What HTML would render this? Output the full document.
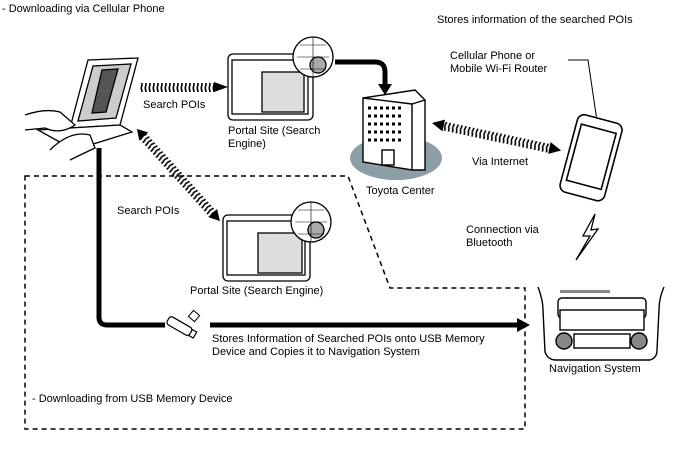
<!DOCTYPE html>
<html><head><style>
html,body{margin:0;padding:0;background:#fff}
svg{display:block}
text{font-family:"Liberation Sans",sans-serif;font-size:11px;fill:#000}
</style></head><body>
<svg width="688" height="463" viewBox="0 0 688 463">
<defs>
<pattern id="ww" width="4" height="8" patternUnits="userSpaceOnUse"><path d="M1 0 Q3 4 1 8" stroke="#000" stroke-width="1.6" fill="none"/></pattern>
</defs>
<text x="2" y="12">- Downloading via Cellular Phone</text>
<text x="437" y="23">Stores information of the searched POIs</text>
<text x="450" y="59">Cellular Phone or</text>
<text x="450" y="72">Mobile Wi-Fi Router</text>
<path d="M568 60 L588 60 L597 121" stroke="#000" fill="none"/>
<!-- dashed box -->
<path d="M25 176 L348 176 L390 288 L525 288 L525 429 L25 429 Z" stroke="#000" stroke-width="1.5" stroke-dasharray="5,4" fill="none"/>
<text x="32" y="402">- Downloading from USB Memory Device</text>
<!-- laptop -->
<g stroke="#000" fill="#fff" stroke-width="1.3">
<path d="M88 60 L138 58 L120 125 L70 128 Z"/>
<path d="M93 66 L131 64 L116 118 L78 121 Z" fill="#ccc"/>
<path d="M102 70 L118 69 L106 112 L92 113 Z" fill="#555"/>
<path d="M70 128 L120 125 L132 132 L74 150 L38 130 Z"/>
<path d="M25 115 Q45 108 60 112 L75 125 Q60 135 45 128 L25 130"/>
<path d="M50 150 Q70 130 90 135 L95 148 Q80 155 70 160"/>
</g>
<!-- wavy arrows -->
<rect x="140" y="83" width="75" height="9" fill="url(#ww)"/>
<path d="M214 82 L228 87 L214 92 Z"/>
<text x="143" y="108">Search POIs</text>
<g transform="translate(137,129) rotate(48)"><rect x="8" y="-4" width="108" height="9" fill="url(#ww)"/><path d="M0 0 L10 -6 L10 6Z"/><path d="M124 0 L113 -6 L113 6Z"/></g>
<text x="117" y="214">Search POIs</text>
<!-- portals -->
<g stroke="#000" stroke-width="1.3" fill="#fff">
<rect x="228" y="54" width="85" height="66" rx="5"/><rect x="232" y="60" width="76" height="54" fill="#fff"/>
<rect x="262" y="72" width="42" height="40" fill="#ddd"/>
<circle cx="313" cy="57" r="20"/><circle cx="318" cy="65" r="8" fill="#aaa"/>
<rect x="223" y="215" width="87" height="66" rx="5"/><rect x="227" y="221" width="78" height="54"/>
<rect x="258" y="233" width="44" height="40" fill="#ddd"/>
<circle cx="311" cy="222" r="20"/><circle cx="316" cy="230" r="8" fill="#aaa"/>
</g>
<g stroke="#000" stroke-width="0.6"><path d="M297 57 H329 M313 37 V77 M300 45 H326 M300 69 H326 M295 222 H327 M311 202 V242 M298 210 H324 M298 234 H324"/></g>
<text x="228" y="134">Portal Site (Search</text>
<text x="228" y="147">Engine)</text>
<text x="190" y="294">Portal Site (Search Engine)</text>
<!-- thick arrow -->
<path d="M335 62 L375 62 Q385 62 385 72 L385 86" stroke="#000" stroke-width="5" fill="none"/>
<path d="M378 84 L392 84 L385 95Z"/>
<!-- building -->
<ellipse cx="396" cy="158" rx="46" ry="22" fill="#8c9ea6"/>
<g stroke="#000" stroke-width="1.4" fill="#fff">
<path d="M363 98 L415 90 L425 100 L425 170 L412 170 L363 162Z"/>
<path d="M412 104 L425 100 M412 104 L412 170 M363 98 L412 104"/>
<rect x="382" y="150" width="12" height="15"/>
</g>
<g fill="none" stroke="#000" stroke-width="0.8">
<path d="M368 108 h36 M368 116 h36 M368 124 h36 M368 132 h36 M368 140 h36" stroke-dasharray="3,3" stroke-width="3"/>
</g>
<text x="366" y="194">Toyota Center</text>
<!-- internet arrow -->
<g transform="translate(432,123) rotate(12)"><path d="M0 0 L12 -6 L12 6Z"/><rect x="12" y="-4" width="108" height="9" fill="url(#ww)"/><path d="M132 0 L120 -6 L120 6Z"/></g>
<text x="472" y="165">Via Internet</text>
<!-- phone -->
<g transform="rotate(15 592 158)" stroke="#000" fill="#fff" stroke-width="1.6">
<rect x="568" y="118" width="46" height="80" rx="7"/>
<rect x="573" y="128" width="36" height="58"/>
</g>
<text x="466" y="233">Connection via</text>
<text x="466" y="246">Bluetooth</text>
<path d="M595 214 L583 236 L590 236 L576 260 L598 229 L591 230 Z" stroke="#000" fill="#fff" stroke-width="1.3"/>
<!-- nav -->
<g stroke="#000" fill="#fff" stroke-width="1.4">
<path d="M538 287 Q543 300 543 310 L545 352 Q548 360 556 360 L650 360 Q657 358 657 350 L659 310 Q659 298 664 287"/>
<rect x="558" y="298" width="88" height="20" rx="4"/>
<rect x="560" y="310" width="84" height="20"/>
<circle cx="564" cy="341" r="8" fill="#888"/><circle cx="639" cy="341" r="8" fill="#888"/>
<rect x="574" y="334" width="56" height="14"/>
</g>
<rect x="560" y="290" width="50" height="3" fill="#888"/>
<text x="549" y="372">Navigation System</text>
<!-- USB line -->
<path d="M99 148 L99 317 Q99 325 107 325 L165 325" stroke="#000" stroke-width="5" fill="none"/>
<path d="M210 325 L518 325" stroke="#000" stroke-width="5"/>
<path d="M517 318 L530 325 L517 332Z"/>
<g transform="rotate(30 180 327)" stroke="#000" fill="#fff" stroke-width="1.2"><rect x="166" y="322" width="26" height="9" rx="3"/><rect x="192" y="323" width="5" height="7"/></g>
<rect x="190" y="312" width="8" height="8" transform="rotate(40 194 316)" stroke="#000" fill="#fff"/>
<text x="212" y="342">Stores Information of Searched POIs onto USB Memory</text>
<text x="212" y="355">Device and Copies it to Navigation System</text>
</svg>
</body></html>
